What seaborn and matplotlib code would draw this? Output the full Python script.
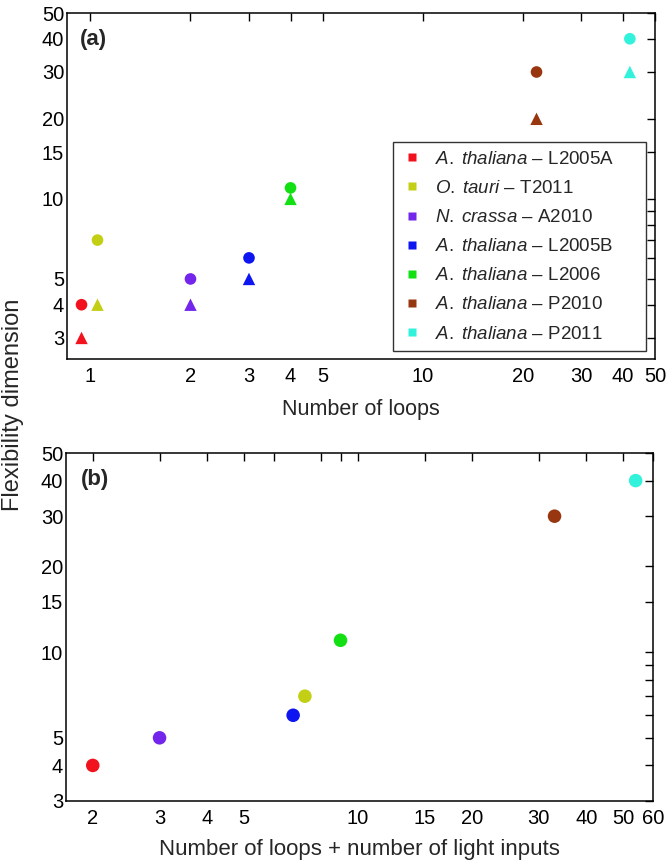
import matplotlib
matplotlib.use("Agg")
import matplotlib.pyplot as plt
from matplotlib.lines import Line2D
from matplotlib.ticker import FixedLocator, NullLocator, FixedFormatter
import seaborn as sns
import pandas as pd

sns.set_style("white")
plt.rcParams['font.family'] = ['Liberation Sans', 'DejaVu Sans']
plt.rcParams['mathtext.fontset'] = 'custom'
plt.rcParams['mathtext.it'] = 'Liberation Sans:italic'
plt.rcParams['mathtext.rm'] = 'Liberation Sans'

# ---- data ----
species = ["A. thaliana", "O. tauri", "N. crassa", "A. thaliana", "A. thaliana", "A. thaliana", "A. thaliana"]
codes = ["L2005A", "T2011", "A2010", "L2005B", "L2006", "P2010", "P2011"]
colors = ["#f2121e", "#c3cf14", "#7325ec", "#0d15f0", "#12e012", "#983610", "#33f2dc"]

loops = [0.94, 1.05, 2, 3, 4, 22, 42]
flex_circle = [4, 7, 5, 6, 11, 30, 40]
flex_triangle = [3, 4, 4, 5, 10, 20, 30]

loops_light = [2, 7.25, 3, 6.75, 9, 33, 54]
flex_b = [4, 7, 5, 6, 11, 30, 40]

names = [f"{s} – {c}" for s, c in zip(species, codes)]
pal = dict(zip(names, colors))

df = pd.DataFrame({"name": names, "loops": loops, "circ": flex_circle,
                   "tri": flex_triangle, "ll": loops_light, "fb": flex_b})

fig = plt.figure(figsize=(6.67, 8.61), dpi=100)
W, H = 667, 861
def box(l, r, t, b):
    return [l / W, 1 - b / H, (r - l) / W, (b - t) / H]

axA = fig.add_axes(box(67, 655, 13, 359))
axB = fig.add_axes(box(66, 653, 453, 801))

sns.scatterplot(data=df, x="loops", y="circ", hue="name", palette=pal, marker="o",
                s=70, edgecolor="none", legend=False, ax=axA, clip_on=False, zorder=3)
sns.scatterplot(data=df, x="loops", y="tri", hue="name", palette=pal, marker="^",
                s=80, edgecolor="none", legend=False, ax=axA, clip_on=False, zorder=3)
sns.scatterplot(data=df, x="ll", y="fb", hue="name", palette=pal, marker="o",
                s=95, edgecolor="none", legend=False, ax=axB, clip_on=False, zorder=3)

ymaj = [3, 4, 5, 10, 15, 20, 30, 40, 50]
ymin = [6, 7, 8, 9]
for ax in (axA, axB):
    ax.set_xscale("log")
    ax.set_yscale("log")
    ax.yaxis.set_major_locator(FixedLocator(ymaj))
    ax.yaxis.set_major_formatter(FixedFormatter([str(v) for v in ymaj]))
    ax.yaxis.set_minor_locator(FixedLocator(ymin))
    ax.tick_params(which="both", direction="in", top=True, right=True,
                   labelsize=14.5, width=1, colors="black")
    ax.tick_params(which="major", length=6)
    ax.tick_params(which="minor", length=6)
    ax.tick_params(axis="x", pad=6)
    ax.tick_params(axis="y", pad=2)
    for sp in ax.spines.values():
        sp.set_color("black")
        sp.set_linewidth(1.1)
    ax.set_ylabel("")

axA.set_xlim(0.85, 50)
axA.set_ylim(2.5, 50)
xa = [1, 2, 3, 4, 5, 10, 20, 30, 40, 50]
axA.xaxis.set_major_locator(FixedLocator(xa))
axA.xaxis.set_major_formatter(FixedFormatter([str(v) for v in xa]))
axA.xaxis.set_minor_locator(NullLocator())
axA.set_xlabel("Number of loops", fontsize=15.5, labelpad=9)

axB.set_xlim(1.7, 60)
axB.set_ylim(3, 50)
xb = [2, 3, 4, 5, 10, 15, 20, 30, 40, 50, 60]
axB.xaxis.set_major_locator(FixedLocator(xb))
axB.xaxis.set_major_formatter(FixedFormatter([str(v) for v in xb]))
axB.xaxis.set_minor_locator(FixedLocator([6, 8, 9]))
axB.xaxis.set_minor_formatter(FixedFormatter(["", "", ""]))
axB.set_xlabel("Number of loops + number of light inputs", fontsize=16, labelpad=8)

axA.text(0.022, 0.955, "(a)", transform=axA.transAxes, fontsize=16,
         fontweight="bold", va="top", ha="left")
axB.text(0.026, 0.955, "(b)", transform=axB.transAxes, fontsize=16,
         fontweight="bold", va="top", ha="left")

fig.text(13 / W, 1 - 405 / H, "Flexibility dimension", rotation=90,
         va="center", ha="center", fontsize=17)

handles = [Line2D([], [], marker="s", linestyle="none", markersize=6,
                  markerfacecolor=c, markeredgecolor="none") for c in colors]
labels = [r"$\it{" + s.replace(" ", r"\;") + "}$ – " + c for s, c in zip(species, codes)]
leg = axA.legend(handles, labels, loc="lower left",
                 bbox_to_anchor=(0.554, 0.023, 0.431, 0.604), mode="expand",
                 fontsize=13.5, frameon=True, fancybox=False, edgecolor="black",
                 borderpad=0.45, labelspacing=0.64, handletextpad=0.6,
                 handlelength=1.2, borderaxespad=0)
leg.get_frame().set_linewidth(1.0)

fig.savefig("out.png", dpi=100)
